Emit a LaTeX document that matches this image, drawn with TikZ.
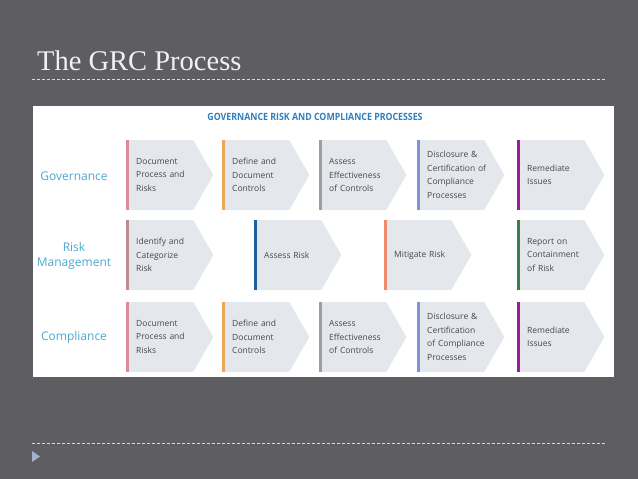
\documentclass[tikz,border=0pt]{standalone}
\usepackage{fontspec}
\setmainfont{Liberation Serif}
\newfontfamily\boxfont{Open Sans}
\newfontfamily\headfont[FakeStretch=0.88]{Open Sans}
\usetikzlibrary{shapes.symbols,positioning}

\definecolor{slidebg}{HTML}{5E5D62}
\definecolor{titlecol}{HTML}{EEF2F4}
\definecolor{rulecol}{HTML}{D8DDE2}
\definecolor{tipcol}{HTML}{9FB4CC}
\definecolor{headblue}{HTML}{2E7FBF}
\definecolor{rowblue}{HTML}{4FA8D0}
\definecolor{chevfill}{HTML}{E4E8ED}
\definecolor{boxtext}{HTML}{474747}
\definecolor{barrose}{HTML}{D98C9A}
\definecolor{barmauve}{HTML}{B98E93}
\definecolor{barorange}{HTML}{F0A65A}
\definecolor{bargray}{HTML}{9E9E9E}
\definecolor{barlav}{HTML}{7D95D6}
\definecolor{barmag}{HTML}{9E1C8E}
\definecolor{barblue}{HTML}{2160A0}
\definecolor{barsalmon}{HTML}{F08C6E}
\definecolor{bargreen}{HTML}{3C7D50}

\begin{document}
\begin{tikzpicture}[
    x=1pt, y=-1pt,
    stage/.style={signal, signal to=east, signal pointer angle=120, fill=chevfill, minimum height=70pt, text width=48pt, inner xsep=9pt, inner ysep=0pt, align=left, anchor=west, text=boxtext, font=\boxfont\fontsize{8.5}{13.5}\selectfont, execute at begin node={\hyphenpenalty=10000\exhyphenpenalty=10000}},
    rowlabel/.style={align=center, text=rowblue, font=\boxfont\fontsize{12}{15}\selectfont},
    bar/.style={line width=3pt},
    rule/.style={draw=rulecol, line width=0.6pt, dash pattern=on 3pt off 2pt}
]

% slide
\fill[slidebg] (0,0) rectangle (638,479);
\node[anchor=base west, inner sep=0pt, text=titlecol, font=\fontsize{28.5}{30}\selectfont] (title) at (37,70) {The GRC Process};
\draw[rule] (32,79) -- (606,79);
\draw[rule] (32,443) -- (606,443);
\fill[tipcol] (32,451) -- (40,456.5) -- (32,462) -- cycle;

% panel
\fill[white] (33,106) rectangle (614,377);
\node[text=headblue, font=\headfont\bfseries\fontsize{10}{11}\selectfont] (head) at (315,117) {GOVERNANCE RISK AND COMPLIANCE PROCESSES};

\node[rowlabel] (gov) at (74,176) {Governance};
\node[rowlabel] (risk) at (74,256) {Risk\\Management};
\node[rowlabel] (comp) at (74,337) {Compliance};

% governance
\node[stage] (g1) at (127,175) {Document\\Process~and\\Risks};
\node[stage] (g2) at (223,175) {Define~and\\Document\\Controls};
\node[stage] (g3) at (320,175) {Assess\\Effectiveness\\of~Controls};
\node[stage] (g4) at (418,175) {Disclosure~\&\\Certification~of\\Compliance\\Processes};
\node[stage] (g5) at (518,175) {Remediate\\Issues};

% risk management
\node[stage] (r1) at (127,255) {Identify~and\\Categorize\\Risk};
\node[stage] (r2) at (255,255) {Assess~Risk};
\node[stage] (r3) at (385,255) {Mitigate~Risk};
\node[stage] (r4) at (518,255) {Report~on\\Containment\\of~Risk};

% compliance
\node[stage] (c1) at (127,337) {Document\\Process~and\\Risks};
\node[stage] (c2) at (223,337) {Define~and\\Document\\Controls};
\node[stage] (c3) at (320,337) {Assess\\Effectiveness\\of~Controls};
\node[stage] (c4) at (418,337) {Disclosure~\&\\Certification\\of~Compliance\\Processes};
\node[stage] (c5) at (518,337) {Remediate\\Issues};

% colour bars
\draw[bar, barrose] (g1.west |- g1.north) -- (g1.west |- g1.south);
\draw[bar, barorange] (g2.west |- g2.north) -- (g2.west |- g2.south);
\draw[bar, bargray] (g3.west |- g3.north) -- (g3.west |- g3.south);
\draw[bar, barlav] (g4.west |- g4.north) -- (g4.west |- g4.south);
\draw[bar, barmag] (g5.west |- g5.north) -- (g5.west |- g5.south);
\draw[bar, barmauve] (r1.west |- r1.north) -- (r1.west |- r1.south);
\draw[bar, barblue] (r2.west |- r2.north) -- (r2.west |- r2.south);
\draw[bar, barsalmon] (r3.west |- r3.north) -- (r3.west |- r3.south);
\draw[bar, bargreen] (r4.west |- r4.north) -- (r4.west |- r4.south);
\draw[bar, barrose] (c1.west |- c1.north) -- (c1.west |- c1.south);
\draw[bar, barorange] (c2.west |- c2.north) -- (c2.west |- c2.south);
\draw[bar, bargray] (c3.west |- c3.north) -- (c3.west |- c3.south);
\draw[bar, barlav] (c4.west |- c4.north) -- (c4.west |- c4.south);
\draw[bar, barmag] (c5.west |- c5.north) -- (c5.west |- c5.south);
\end{tikzpicture}
\end{document}
